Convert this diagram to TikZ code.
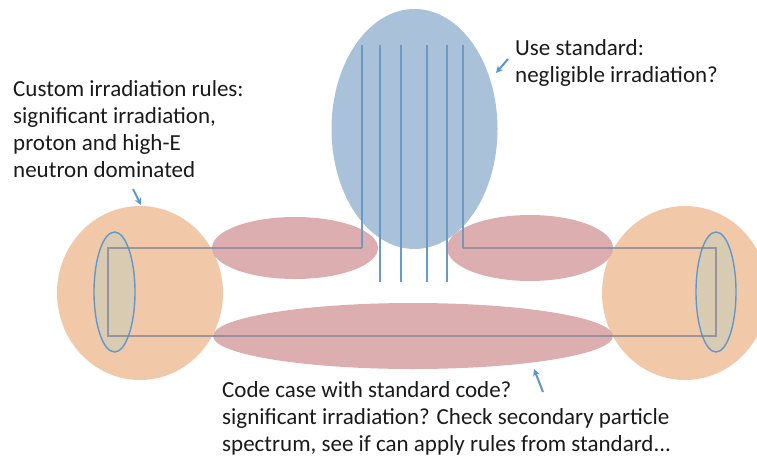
\documentclass[tikz,border=0pt]{standalone}
\usepackage{fontspec}
\setmainfont{Carlito}
\usetikzlibrary{arrows.meta}
\definecolor{orangefill}{HTML}{F2C9A8}
\definecolor{redfill}{HTML}{D9A5A6}
\definecolor{bluefill}{HTML}{A9C2D9}
\definecolor{lineblue}{HTML}{6A9AC7}
\definecolor{rectline}{HTML}{7E8598}
\definecolor{tanfill}{HTML}{D9CBB1}
\definecolor{edgeblue}{HTML}{5E98CE}
\definecolor{arrowblue}{HTML}{5B96CC}
\definecolor{textcol}{HTML}{1A1A1A}
\begin{document}
\begin{tikzpicture}[x=1pt,y=-1pt,
  label text/.style={font=\fontsize{23}{26.8}\selectfont, text=textcol, align=left, inner sep=0pt, anchor=base west},
  pointer/.style={draw=arrowblue, line width=2pt, -{Stealth[length=7pt,width=7pt]}},
  beamline/.style={draw=rectline, line width=1.6pt, opacity=0.75},
  wire/.style={draw=lineblue, line width=2.6pt}]
\useasboundingbox (0,0) rectangle (757,458);
\clip (0,0) rectangle (757,458);
% end caps
\fill[orangefill] (140,293) ellipse [x radius=83, y radius=87];
\fill[orangefill] (685,293) ellipse [x radius=83, y radius=87];
\filldraw[fill=tanfill, draw=edgeblue, line width=1.4pt] (114.5,292) ellipse [x radius=20.5, y radius=60];
\filldraw[fill=tanfill, draw=edgeblue, line width=1.4pt] (716,292) ellipse [x radius=20, y radius=60];
% big blue ellipse
\fill[bluefill] (414.5,129) ellipse [x radius=83, y radius=120];
% red lobes
\fill[redfill, opacity=0.9] (295,248) ellipse [x radius=83, y radius=31];
\fill[redfill, opacity=0.9] (530,248) ellipse [x radius=83, y radius=33];
\fill[redfill, opacity=0.9] (413,336) ellipse [x radius=200, y radius=33];
% outline of the beam pipe
\coordinate (tl) at (108,248);
\coordinate (bl) at (108,336);
\coordinate (tr) at (716,248);
\coordinate (br) at (716,336);
\coordinate (cl) at (362,248);
\coordinate (cr) at (463,248);
\draw[beamline] (cl) -- (tl) -- (bl) -- (br) -- (tr) -- (cr);
% wires
\coordinate (w1t) at (362,45);
\coordinate (w6t) at (463,45);
\draw[wire] (w1t) -- (cl);
\draw[wire] (w6t) -- (cr);
\foreach \x in {380,401,427,447} {
  \draw[wire] (\x,45) -- (\x,282);
}
% texts (anchor = baseline of last line)
\node[label text] (custom) at (13,177) {Custom irradiation rules:\\significant irradiation,\\proton and high-E\\neutron dominated};
\node[label text] (usestd) at (515,82) {Use standard:\\negligible irradiation?};
\node[label text] (codecase) at (222,451) {Code case with standard code?\\significant irradiation? Check secondary particle\\spectrum, see if can apply rules from standard...};
% pointers
\coordinate (p1s) at (133,189);
\coordinate (p1e) at (141,205);
\coordinate (p2s) at (508,59);
\coordinate (p2e) at (496,73);
\coordinate (p3s) at (543,392);
\coordinate (p3e) at (534,369);
\draw[pointer] (p1s) -- (p1e);
\draw[pointer] (p2s) -- (p2e);
\draw[pointer] (p3s) -- (p3e);
\end{tikzpicture}
\end{document}
